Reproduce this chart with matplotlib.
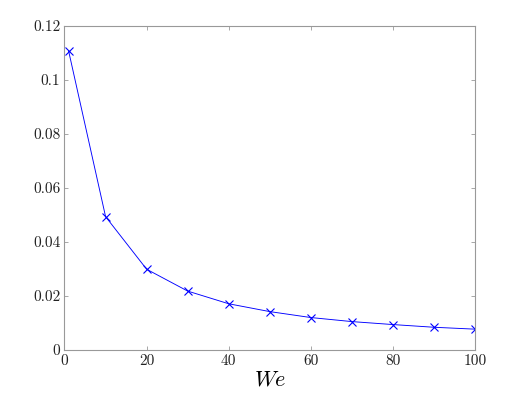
import matplotlib
matplotlib.use("Agg")
import matplotlib.pyplot as plt

plt.rcParams["font.family"] = "serif"
plt.rcParams["font.serif"] = ["cmr10"]
plt.rcParams["mathtext.fontset"] = "cm"
plt.rcParams["axes.formatter.use_mathtext"] = True

# values
we = [1, 10, 20, 30, 40, 50, 60, 70, 80, 90, 100]
vals = [0.1107, 0.0493, 0.0298, 0.0217, 0.0170, 0.0141, 0.0119, 0.0104, 0.0093, 0.0083, 0.0076]

x_ticks = [0, 20, 40, 60, 80, 100]
y_ticks = [0, 0.02, 0.04, 0.06, 0.08, 0.1, 0.12]
y_labels = ["0", "0.02", "0.04", "0.06", "0.08", "0.1", "0.12"]

fig = plt.figure(figsize=(5.26, 3.94), dpi=100)
ax = fig.add_axes([0.1226, 0.1125, 0.781, 0.822])

ax.plot(we, vals, color="blue", linewidth=0.65, marker="x", markersize=6, markeredgewidth=0.8)

ax.set_xlim(0, 100)
ax.set_ylim(0, 0.12)
ax.set_xticks(x_ticks)
ax.set_xticklabels([str(t) for t in x_ticks])
ax.set_yticks(y_ticks)
ax.set_yticklabels(y_labels)

for s in ax.spines.values():
    s.set_color("#999999")
    s.set_linewidth(0.8)
ax.tick_params(direction="in", length=3, width=0.6, color="#999999",
               labelsize=11, labelcolor="#222222", top=True, right=True, pad=3)

ax.set_xlabel("$We$", fontsize=16, labelpad=2)

fig.savefig("out.png", dpi=100)
